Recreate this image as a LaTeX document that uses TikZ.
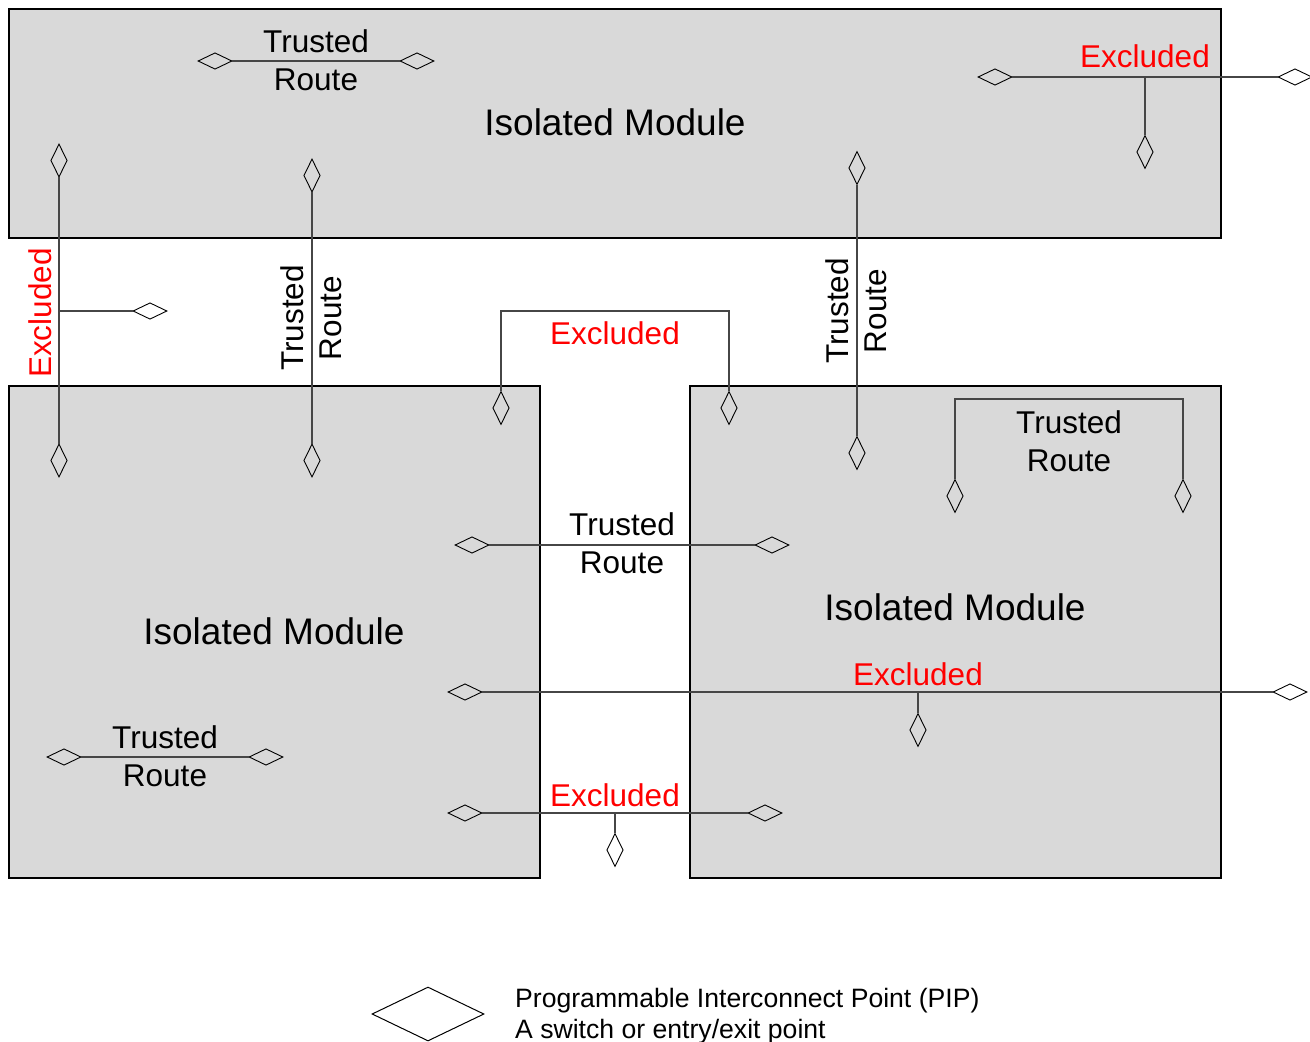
\documentclass[tikz,border=0pt]{standalone}
\usepackage{fontspec}
\setmainfont{Liberation Sans}
\usetikzlibrary{shapes.geometric}
\definecolor{modgray}{RGB}{217,217,217}
\definecolor{wiregray}{RGB}{70,70,70}
\begin{document}
\begin{tikzpicture}[x=1pt,y=-1pt,
  module/.style={draw=black, line width=2.8pt, fill=modgray},
  wire/.style={draw=wiregray, line width=1.1pt},
  hpip/.style={shape=diamond, draw=black, line width=0.9pt, inner sep=0pt, minimum width=34pt, minimum height=16.5pt},
  vpip/.style={shape=diamond, draw=black, line width=0.9pt, inner sep=0pt, minimum width=16.5pt, minimum height=33pt},
  lbl/.style={font=\fontsize{31.5}{38}\selectfont, align=center, inner sep=0pt},
  exl/.style={lbl, text=red},
  modlbl/.style={font=\fontsize{37}{44}\selectfont, inner sep=0pt, anchor=base},
]
\useasboundingbox (0,0) rectangle (1310,1042);

% modules
\draw[module] (9,9) rectangle (1221,238);
\draw[module] (9,386) rectangle (540,878);
\draw[module] (690,386) rectangle (1221,878);

% PIPs
\node[hpip] (tA1) at (215,61) {};
\node[hpip] (tA2) at (417,61) {};
\node[hpip] (eA1) at (995,77) {};
\node[hpip] (eA2) at (1295,77) {};
\node[vpip] (eA3) at (1145,152) {};
\coordinate (eAj) at (1145,77);

\node[vpip] (eB1) at (59,160.5) {};
\node[vpip] (eB2) at (59,460.5) {};
\node[hpip] (eB3) at (150,311) {};
\coordinate (eBj) at (59,311);

\node[vpip] (tB1) at (312,175.5) {};
\node[vpip] (tB2) at (312,460.5) {};

\node[vpip] (tC1) at (857,168) {};
\node[vpip] (tC2) at (857,453) {};

\node[vpip] (eC1) at (501,408) {};
\node[vpip] (eC2) at (729,408) {};
\coordinate (eCa) at (501,311);
\coordinate (eCb) at (729,311);

\node[hpip] (tD1) at (472,545) {};
\node[hpip] (tD2) at (772,545) {};

\node[vpip] (tE1) at (955,496) {};
\node[vpip] (tE2) at (1183,496) {};
\coordinate (tEa) at (955,399);
\coordinate (tEb) at (1183,399);

\node[hpip] (eD1) at (465,692) {};
\node[hpip] (eD2) at (1290,692) {};
\node[vpip] (eD3) at (918,730) {};
\coordinate (eDj) at (918,692);

\node[hpip] (tF1) at (64,757) {};
\node[hpip] (tF2) at (266,757) {};

\node[hpip] (eE1) at (465,813) {};
\node[hpip] (eE2) at (765,813) {};
\node[vpip] (eE3) at (615,850) {};
\coordinate (eEj) at (615,813);

% wires
\draw[wire] (tA1.east) -- (tA2.west);
\draw[wire] (eA1.east) -- (eA2.west);
\draw[wire] (eAj) -- (eA3.north);
\draw[wire] (eB1.south) -- (eB2.north);
\draw[wire] (eBj) -- (eB3.west);
\draw[wire] (tB1.south) -- (tB2.north);
\draw[wire] (tC1.south) -- (tC2.north);
\draw[wire] (eC1.north) -- (eCa) -- (eCb) -- (eC2.north);
\draw[wire] (tD1.east) -- (tD2.west);
\draw[wire] (tE1.north) -- (tEa) -- (tEb) -- (tE2.north);
\draw[wire] (eD1.east) -- (eD2.west);
\draw[wire] (eDj) -- (eD3.north);
\draw[wire] (tF1.east) -- (tF2.west);
\draw[wire] (eE1.east) -- (eE2.west);
\draw[wire] (eEj) -- (eE3.north);

% labels
\node[modlbl] (m1) at (615,135) {Isolated Module};
\node[modlbl] (m2) at (274,644) {Isolated Module};
\node[modlbl] (m3) at (955,620) {Isolated Module};

\node[lbl] (lA) at (316,60.5) {Trusted\\Route};
\node[exl, anchor=base] (lEA) at (1145,67) {Excluded};
\node[exl, rotate=90] (lEB) at (40,313) {Excluded};
\node[lbl, rotate=90] (lB) at (311,318) {Trusted\\Route};
\node[lbl, rotate=90] (lC) at (856,311) {Trusted\\Route};
\node[exl, anchor=base] (lEC) at (615,344) {Excluded};
\node[lbl] (lD) at (622,543.5) {Trusted\\Route};
\node[lbl] (lE) at (1069,441.5) {Trusted\\Route};
\node[exl, anchor=base] (lED) at (918,685) {Excluded};
\node[lbl] (lF) at (165,756.5) {Trusted\\Route};
\node[exl, anchor=base] (lEE) at (615,806) {Excluded};

% legend
\node[shape=diamond, draw=black, line width=1pt, inner sep=0pt, minimum width=112pt, minimum height=54pt] (leg) at (428,1014) {};
\node[font=\fontsize{26.6}{31}\selectfont, align=left, anchor=west, inner sep=0pt] (legtxt) at (515,1016.5) {Programmable Interconnect Point (PIP)\\A switch or entry/exit point};
\end{tikzpicture}
\end{document}
